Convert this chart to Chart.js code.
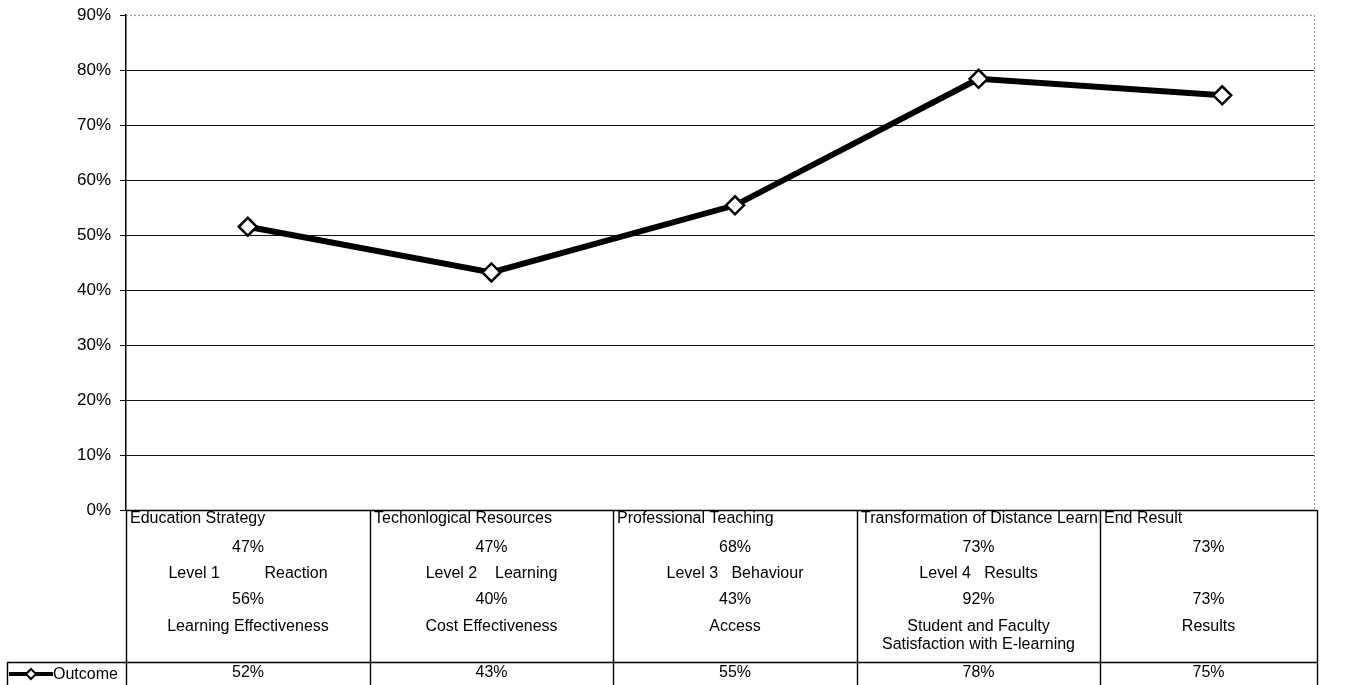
<!DOCTYPE html>
<html>
<head>
<meta charset="utf-8">
<script src="https://cdn.jsdelivr.net/npm/chart.js@4.4.0/dist/chart.umd.min.js"></script>
<style>
  html, body { margin: 0; padding: 0; background: #fff; }
  #wrap { width: 1346px; height: 685px; }
</style>
</head>
<body>
<div id="wrap"><canvas id="myChart" width="1346" height="685"></canvas></div>
<script>
// Category headers shown in the data table
var categories = [
    'Education Strategy',
    'Techonlogical Resources',
    'Professional Teaching',
    'Transformation of Distance Learning',
    'End Result'
];

// Plotted series
var outcomeValues = [51.5, 43.2, 55.4, 78.4, 75.4];

// Extra lines under each header in the table
var detailLines = [
    ['47%', 'Level 1          Reaction', '56%', 'Learning Effectiveness'],
    ['47%', 'Level 2    Learning', '40%', 'Cost Effectiveness'],
    ['68%', 'Level 3   Behaviour', '43%', 'Access'],
    ['73%', 'Level 4   Results', '92%', 'Student and Faculty', 'Satisfaction with E-learning'],
    ['73%', '', '73%', 'Results']
];

var yTickValues = [0, 10, 20, 30, 40, 50, 60, 70, 80, 90];

var FONT = '"Liberation Sans", Arial, Helvetica, sans-serif';

// Horizontal gridlines (stop a little short of the right edge like the original)
var gridPlugin = {
    id: 'gridLines',
    beforeDatasetsDraw: function (chart) {
        var ctx = chart.ctx, area = chart.chartArea, y = chart.scales.y;
        var right = area.right - 30;
        ctx.save();
        yTickValues.forEach(function (v) {
            if (v === 0) return;
            var py = Math.round(y.getPixelForValue(v)) + 0.5;
            ctx.beginPath();
            if (v === 90) {
                ctx.strokeStyle = '#999';
                ctx.setLineDash([2, 2]);
            } else {
                ctx.strokeStyle = '#111';
                ctx.setLineDash([]);
            }
            ctx.lineWidth = 1.2;
            ctx.moveTo(area.left, py);
            ctx.lineTo(right, py);
            ctx.stroke();
        });
        // dotted right border
        ctx.setLineDash([2, 2]);
        ctx.strokeStyle = '#999';
        ctx.lineWidth = 1;
        ctx.beginPath();
        ctx.moveTo(right + 0.5, area.top);
        ctx.lineTo(right + 0.5, area.bottom);
        ctx.stroke();
        ctx.restore();
    }
};

// Data table under the plot
var tablePlugin = {
    id: 'dataTable',
    afterDraw: function (chart) {
        var ctx = chart.ctx, area = chart.chartArea, x = chart.scales.x;
        var top = area.bottom;
        var rowSplit = top + 152;
        var bottom = chart.height;
        var half = (x.getPixelForValue(1) - x.getPixelForValue(0)) / 2;
        var tableRight = area.right - 27;

        ctx.save();
        ctx.strokeStyle = '#000';
        ctx.lineWidth = 1.4;

        // outer lines
        ctx.beginPath();
        ctx.moveTo(area.left, top + 0.5);
        ctx.lineTo(tableRight, top + 0.5);
        ctx.moveTo(7, rowSplit + 0.5);
        ctx.lineTo(tableRight, rowSplit + 0.5);
        ctx.moveTo(7.5, rowSplit);
        ctx.lineTo(7.5, bottom);
        ctx.moveTo(tableRight + 0.5, top);
        ctx.lineTo(tableRight + 0.5, bottom);
        ctx.moveTo(area.left + 0.5, top);
        ctx.lineTo(area.left + 0.5, bottom);
        for (var i = 1; i < categories.length; i++) {
            var bx = Math.round(x.getPixelForValue(i) - half) + 0.5;
            ctx.moveTo(bx, top);
            ctx.lineTo(bx, bottom);
        }
        ctx.stroke();

        ctx.fillStyle = '#000';
        ctx.textBaseline = 'middle';
        var lineOffsets = [38, 64, 90, 117, 135];

        categories.forEach(function (cat, i) {
            var cx = x.getPixelForValue(i);
            var left = i === 0 ? area.left : Math.round(cx - half);
            var right = i === categories.length - 1 ? tableRight : Math.round(cx + half);

            // header, left aligned and clipped to the cell
            ctx.save();
            ctx.beginPath();
            ctx.rect(left + 1, top, right - left - 2, 30);
            ctx.clip();
            ctx.font = '16px ' + FONT;
            ctx.textAlign = 'left';
            ctx.fillText(cat, left + 4, top + 9);
            ctx.restore();

            ctx.font = '16px ' + FONT;
            ctx.textAlign = 'center';
            var tcx = (left + right) / 2;
            detailLines[i].forEach(function (txt, j) {
                if (txt) ctx.fillText(txt, tcx, top + lineOffsets[j]);
            });

            // series value row
            ctx.fillText(Math.round(outcomeValues[i]) + '%', tcx, rowSplit + 11);
        });

        // legend key in the value row
        var ds = chart.data.datasets[0];
        var ky = rowSplit + 12;
        ctx.strokeStyle = ds.borderColor;
        ctx.lineWidth = 4;
        ctx.beginPath();
        ctx.moveTo(9, ky);
        ctx.lineTo(53, ky);
        ctx.stroke();
        ctx.beginPath();
        ctx.moveTo(31, ky - 5);
        ctx.lineTo(36, ky);
        ctx.lineTo(31, ky + 5);
        ctx.lineTo(26, ky);
        ctx.closePath();
        ctx.fillStyle = '#fff';
        ctx.fill();
        ctx.lineWidth = 2;
        ctx.stroke();
        ctx.fillStyle = '#000';
        ctx.textAlign = 'left';
        ctx.font = '16px ' + FONT;
        ctx.fillText(ds.label, 53, ky + 1);

        ctx.restore();
    }
};

var ctx = document.getElementById('myChart').getContext('2d');

var myChart = new Chart(ctx, {
    type: 'line',
    data: {
        labels: categories,
        datasets: [{
            label: 'Outcome',
            data: outcomeValues,
            borderColor: '#000',
            borderWidth: 6,
            pointStyle: 'rectRot',
            pointRadius: 9,
            pointBorderWidth: 2.5,
            pointBackgroundColor: '#fff',
            pointBorderColor: '#000',
            tension: 0
        }]
    },
    options: {
        responsive: false,
        animation: false,
        layout: {
            autoPadding: false,
            padding: { top: 15, right: 2, bottom: 175, left: 0 }
        },
        plugins: {
            legend: { display: false },
            tooltip: { enabled: false }
        },
        scales: {
            x: {
                display: false,
                offset: true
            },
            y: {
                min: 0,
                max: 90,
                afterFit: function (scale) {
                    scale.width = 126;
                    scale.paddingTop = 0;
                    scale.paddingBottom = 0;
                },
                afterBuildTicks: function (scale) {
                    scale.ticks = yTickValues.map(function (v) { return { value: v }; });
                },
                border: { display: true, color: '#000', width: 1.5 },
                grid: {
                    drawOnChartArea: false,
                    drawTicks: true,
                    tickLength: 6,
                    color: '#000'
                },
                ticks: {
                    padding: 9,
                    color: '#000',
                    font: { family: FONT, size: 17 },
                    callback: function (v) { return v + '%'; }
                }
            }
        }
    },
    plugins: [gridPlugin, tablePlugin]
});
</script>
</body>
</html>
